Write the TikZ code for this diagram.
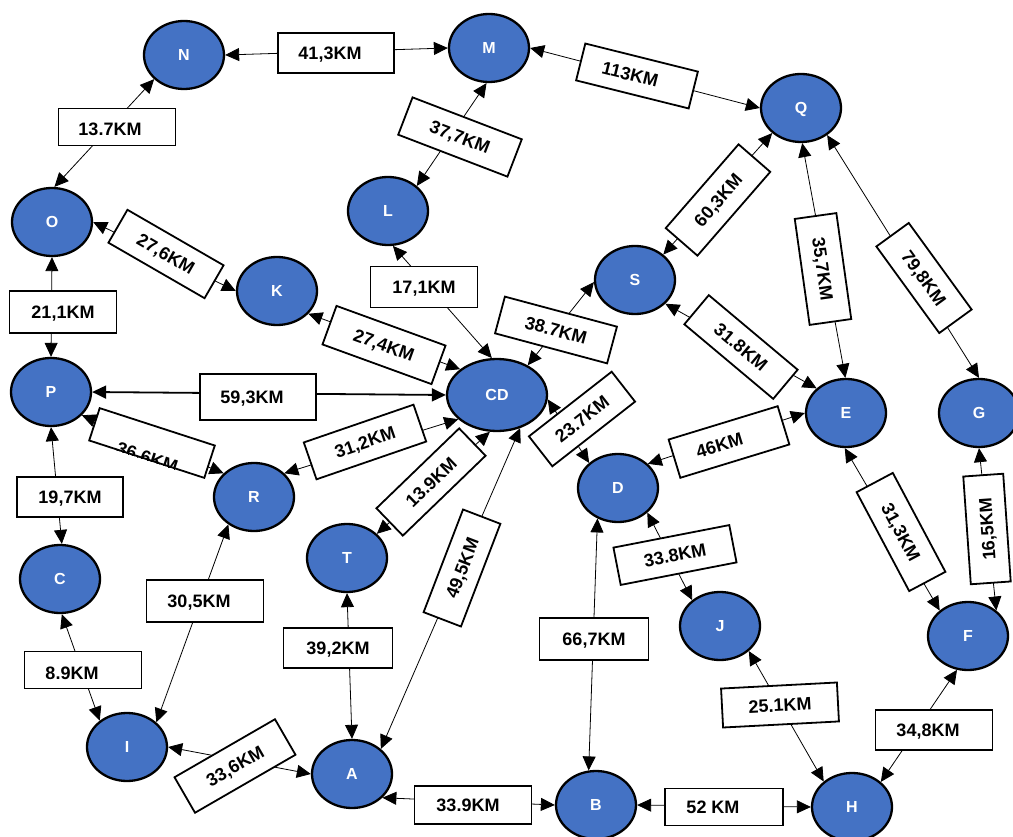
\documentclass[tikz,border=0pt]{standalone}
\usepackage{fontspec}
\setmainfont{Liberation Sans}
\usetikzlibrary{shapes.geometric,arrows.meta,calc}
\definecolor{nodeblue}{HTML}{4472C4}
\begin{document}
\begin{tikzpicture}[x=1pt,y=-1pt,
  city/.style={ellipse, draw=black, line width=2.3pt, fill=nodeblue, minimum width=80pt, minimum height=68pt, inner sep=0pt, text=white, font=\fontsize{16}{16}\selectfont\bfseries, text height=11.5pt, text depth=0pt},
  km/.style={draw=black, fill=white, line width=1.8pt, inner sep=0pt, font=\fontsize{18}{18}\selectfont\bfseries, text height=12.9pt, text depth=0pt},
  kmfont/.style={font=\fontsize{18}{18}\selectfont\bfseries, inner sep=0pt},
  link/.style={line width=0.8pt, {Triangle[length=14pt,width=13pt]}-{Triangle[length=14pt,width=13pt]}},
]
\useasboundingbox (0,0) rectangle (1013,837);

% cities
\node[city] (N) at (184,55) {N};
\node[city] (M) at (489,48) {M};
\node[city] (Q) at (801,108) {Q};
\node[city] (O) at (52,222) {O};
\node[city] (L) at (388,211) {L};
\node[city] (K) at (277,291) {K};
\node[city] (S) at (635,280) {S};
\node[city] (P) at (51,392) {P};
\node[city, minimum width=100pt, minimum height=72pt] (CD) at (497,395) {CD};
\node[city] (R) at (254,497) {R};
\node[city] (T) at (347,558) {T};
\node[city] (C) at (60,579) {C};
\node[city] (I) at (127,747) {I};
\node[city] (A) at (352,774) {A};
\node[city] (B) at (596,805) {B};
\node[city] (H) at (852,807) {H};
\node[city] (J) at (720,626) {J};
\node[city] (F) at (968,636) {F};
\node[city] (D) at (618,488) {D};
\node[city] (E) at (846,413) {E};
\node[city] (G) at (979,413) {G};

% connectors
\draw[link] (N.0) -- (M.180);
\draw[link] (N.219) -- (O.86);
\draw[link] (M.266) -- (L.41);
\draw[link] (O.0) -- (K.180);
\draw[link] (O.270) -- (P.90);
\draw[link] (L.278) -- (CD.98);
\draw[link] (M.0) -- (Q.180);
\draw[link] (Q.221) -- (S.42);
\draw[link] (Q.272) -- (E.91);
\draw[link] (Q.314) -- (G.90);
\draw[link] (K.324) -- (CD.145);
\draw[link, line width=1.8pt] (P.0) -- (CD.180);
\draw[link] (P.323) -- (R.142);
\draw[link] (R.38) -- (CD.212);
\draw[link] (T.39) -- (CD.259);
\draw[link] (A.41) -- (CD.305);
\draw[link] (S.183) -- (CD.44);
\draw[link] (CD.355) -- (D.139);
\draw[link] (S.322) -- (E.140);
\draw[link] (D.39) -- (E.180);
\draw[link] (E.268) -- (F.138);
\draw[link] (G.270) -- (F.42);
\draw[link] (D.320) -- (J.137);
\draw[link] (D.236) -- (B.102);
\draw[link] (J.319) -- (H.138);
\draw[link] (F.252) -- (H.41);
\draw[link] (B.0) -- (H.180);
\draw[link] (A.322) -- (B.180);
\draw[link] (I.0) -- (A.180);
\draw[link] (T.270) -- (A.90);
\draw[link] (R.227) -- (I.40);
\draw[link] (C.273) -- (I.136);
\draw[link] (P.270) -- (C.87);

% distance labels
\node[km, minimum width=116pt, minimum height=40pt] (l1) at (336,53) {\hspace*{-12pt}41,3KM};
\node[km, minimum width=117pt, minimum height=37pt] (l2) at (117,127) {\hspace*{-14pt}\raisebox{-2pt}{13.7KM}};
\node[km, minimum width=117pt, minimum height=40pt, rotate=-21] (l3) at (460,137) {37,7KM};
\node[km, minimum width=111pt, minimum height=38pt, rotate=-30] (l4) at (166,254) {27,6KM};
\node[km, minimum width=107pt, minimum height=42pt] (l5) at (63,312) {21,1KM};
\node[km, minimum width=107pt, minimum height=41pt] (l6) at (424,287) {17,1KM};
\node[km, minimum width=116pt, minimum height=38pt, rotate=-14] (l7) at (637,76) {\hspace*{-14pt}113KM};
\node[km, minimum width=111pt, minimum height=42pt, rotate=49] (l8) at (718,200) {60,3KM};
\node[km, minimum width=107pt, minimum height=42pt, rotate=-82] (l9) at (823,269) {35,7KM};
\node[km, minimum width=107pt, minimum height=40pt, rotate=-54] (l10) at (924,278) {79,8KM};
\node[km, minimum width=116pt, minimum height=41pt, rotate=-20] (l11) at (384,345) {27,4KM};
\node[km, minimum width=116pt, minimum height=46pt] (l12) at (258,397) {\hspace*{-12pt}59,3KM};
\node[km, minimum width=121pt, minimum height=34pt, rotate=-18] (l13) at (152,443) {};
\begin{scope}
  \clip (l13.north west) -- (l13.north east) -- (l13.south east) -- (l13.south west) -- cycle;
  \node[kmfont, rotate=-18, anchor=base] at ($(l13.center)!21.5pt!(l13.south)$) {36,6KM};
\end{scope}
\node[km, minimum width=116pt, minimum height=39pt, rotate=19] (l14) at (365,442) {31,2KM};
\node[km, minimum width=115pt, minimum height=38pt, rotate=44] (l15) at (431,482) {13.9KM};
\node[km, minimum width=110pt, minimum height=40pt, rotate=69] (l16) at (462,568) {49,5KM};
\node[km, minimum width=116pt, minimum height=38pt, rotate=-15] (l17) at (556,330) {38.7KM};
\node[km, minimum width=105pt, minimum height=38pt, rotate=38] (l18) at (582,419) {23.7KM};
\node[km, minimum width=116pt, minimum height=38pt, rotate=-40] (l19) at (741,347) {31.8KM};
\node[km, minimum width=114pt, minimum height=40pt, rotate=17] (l20) at (729,442) {\hspace*{-20pt}46KM};
\node[km, minimum width=112pt, minimum height=41pt, rotate=-62] (l21) at (901,532) {31,3KM};
\node[km, minimum width=108pt, minimum height=40pt, rotate=94] (l22) at (987,529) {16,5KM};
\node[km, minimum width=118pt, minimum height=38pt, rotate=11] (l23) at (675,555) {33.8KM};
\node[km, minimum width=109pt, minimum height=42pt] (l24) at (594,639) {66,7KM};
\node[km, minimum width=116pt, minimum height=39pt, rotate=3] (l25) at (780,705) {25.1KM};
\node[km, minimum width=117pt, minimum height=40pt] (l26) at (934,730) {\hspace*{-12pt}34,8KM};
\node[km, minimum width=118pt, minimum height=37pt] (l27) at (724,807) {\hspace*{-22pt}52 KM};
\node[km, minimum width=117pt, minimum height=38pt] (l28) at (473,805) {\hspace*{-10pt}33.9KM};
\node[km, minimum width=116pt, minimum height=41pt, rotate=30] (l29) at (235,766) {33,6KM};
\node[km, minimum width=109pt, minimum height=40pt] (l30) at (338,648) {39,2KM};
\node[km, minimum width=117pt, minimum height=42pt] (l31) at (205,601) {\hspace*{-12pt}30,5KM};
\node[km, minimum width=117pt, minimum height=37pt] (l32) at (83,670) {\hspace*{-22pt}\raisebox{-3pt}{8.9KM}};
\node[km, minimum width=106pt, minimum height=40pt] (l33) at (70,497) {19,7KM};
\end{tikzpicture}
\end{document}
